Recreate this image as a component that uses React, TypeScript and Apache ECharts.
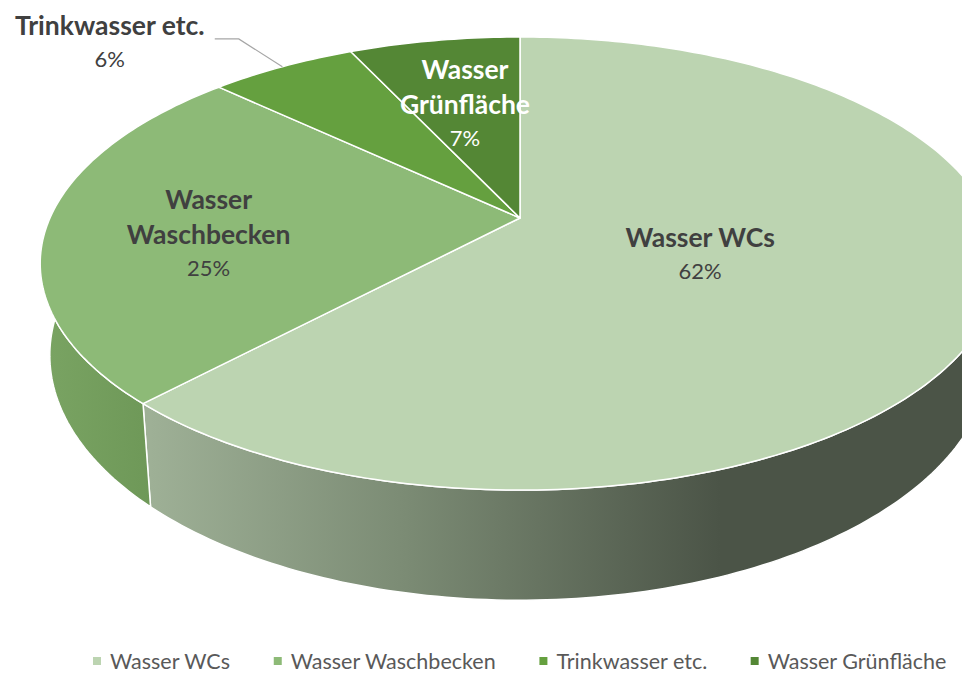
import React, { useEffect, useRef } from 'react';
import * as echarts from 'echarts';

// ---------- data ----------
const categories = ['Wasser WCs', 'Wasser Waschbecken', 'Trinkwasser etc.', 'Wasser Grünfläche'];
const values = [62, 25, 6, 7];
const labelLines = [['Wasser WCs'], ['Wasser', 'Waschbecken'], ['Trinkwasser etc.'], ['Wasser', 'Grünfläche']];

// ---------- styles ----------
const topColors = ['#bcd4b1', '#8dba77', '#65a03f', '#548735'];
const labelColors = ['#404040', '#404040', '#404040', '#ffffff'];
const labelRadius = [0.4, 0.66, -1, 0.6]; // -1 => outside label with leader line
const labelDy = [2, 10, 0, -2];
const FONT = 'Lato';

// projection of the tilted pie (perspective)
const CX = 520;
const CY = 218;
const A = 470;
const B = 217.4;
const K = 0.201;
const H = 88;

const total = values.reduce((a, b) => a + b, 0);

function project(theta: number, r: number, d: number): number[] {
  const u = r * Math.sin(theta);
  const v = -r * Math.cos(theta);
  const s = 1 / (1 - K * v);
  const x = CX + A * u * s * (1 - 0.02 * d);
  const y = CY + (B * v + H * d) * s;
  return [x, y];
}

function arcPoints(t1: number, t2: number, d: number): number[][] {
  const pts: number[][] = [];
  const n = Math.max(4, Math.ceil(((t2 - t1) / (Math.PI * 2)) * 360));
  for (let j = 0; j <= n; j++) {
    const t = t1 + ((t2 - t1) * j) / n;
    pts.push(project(t, 1, d));
  }
  return pts;
}

const sideFills: any[] = [
  new echarts.graphic.LinearGradient(150, 0, 720, 0, [
    { offset: 0, color: '#9eb096' },
    { offset: 0.45, color: '#7b8b74' },
    { offset: 1, color: '#4b5447' },
  ], true),
  new echarts.graphic.LinearGradient(40, 0, 160, 0, [
    { offset: 0, color: '#7aa463' },
    { offset: 1, color: '#6d9757' },
  ], true),
  '#4f8230',
  '#426f2a',
];

export default function App() {
  const ref = useRef<HTMLDivElement>(null);

  useEffect(() => {
    if (!ref.current) return;
    const chart = echarts.init(ref.current, undefined, { renderer: 'svg' });

    let acc = 0;
    const sliceData = values.map((v, i) => {
      const start = acc;
      acc += v;
      return { name: categories[i], value: [start, acc, i] };
    });

    const angle = (p: number) => (p / total) * Math.PI * 2;

    const option: any = {
      animation: false,
      backgroundColor: '#ffffff',
      legend: {
        left: 93,
        top: 650,
        width: 1400,
        padding: 0,
        icon: 'rect',
        itemWidth: 8,
        itemHeight: 8,
        itemGap: 43,
        selectedMode: false,
        data: categories,
        textStyle: { fontFamily: FONT, fontSize: 21.5, lineHeight: 22, color: '#595959', padding: [0, 0, 0, 4] },
      },
      series: [
        {
          type: 'pie',
          name: 'legend',
          radius: [0, 0],
          center: [-100, -100],
          silent: true,
          label: { show: false },
          labelLine: { show: false },
          data: categories.map((c, i) => ({ name: c, value: values[i], itemStyle: { color: topColors[i] } })),
        },
        {
          type: 'custom',
          name: 'sides',
          coordinateSystem: 'none',
          silent: true,
          z: 1,
          data: sliceData,
          renderItem: (params: any, api: any) => {
            const t1 = angle(api.value(0));
            const t2 = angle(api.value(1));
            const i = api.value(2);
            const top = arcPoints(t1, t2, 0);
            const bottom = arcPoints(t1, t2, 1).reverse();
            return {
              type: 'polygon',
              shape: { points: top.concat(bottom) },
              style: { fill: sideFills[i], stroke: '#ffffff', lineWidth: 1.5, lineJoin: 'round' },
            };
          },
        },
        {
          type: 'custom',
          name: 'tops',
          coordinateSystem: 'none',
          silent: true,
          z: 2,
          data: sliceData,
          renderItem: (params: any, api: any) => {
            const t1 = angle(api.value(0));
            const t2 = angle(api.value(1));
            const i = api.value(2);
            const pts = [[CX, CY]].concat(arcPoints(t1, t2, 0));
            return {
              type: 'polygon',
              shape: { points: pts },
              style: { fill: topColors[i], stroke: '#ffffff', lineWidth: 1.5, lineJoin: 'round' },
            };
          },
        },
        {
          type: 'custom',
          name: 'labels',
          coordinateSystem: 'none',
          silent: true,
          z: 3,
          data: sliceData,
          renderItem: (params: any, api: any) => {
            const s = api.value(0);
            const e = api.value(1);
            const i = api.value(2);
            const mid = angle((s + e) / 2);
            const pct = Math.round((values[i] / total) * 100) + '%';
            const text = labelLines[i].map((l) => '{n|' + l + '}').join('\n') + '\n{p|' + pct + '}';
            const rich = {
              n: { fontFamily: FONT, fontWeight: 'bold', fontSize: 26.5, lineHeight: 35, fill: labelColors[i], color: labelColors[i], align: 'center' },
              p: { fontFamily: FONT, fontSize: 22, lineHeight: 32, fill: labelColors[i], color: labelColors[i], align: 'center' },
            };
            if (labelRadius[i] > 0) {
              const [x, y] = project(mid, labelRadius[i], 0);
              return {
                type: 'text',
                x,
                y: y + labelDy[i],
                style: { text, rich, align: 'center', verticalAlign: 'middle', fill: labelColors[i] },
              };
            }
            const p0 = project(mid, 1, 0);
            const p1 = project(mid, 1.22, 0);
            const p2 = [p1[0] - 24, p1[1]];
            return {
              type: 'group',
              children: [
                {
                  type: 'polyline',
                  shape: { points: [p0, p1, p2] },
                  style: { stroke: '#a6a6a6', lineWidth: 1.2, fill: 'none' },
                },
                {
                  type: 'text',
                  x: p2[0] - 105,
                  y: p2[1] + 2,
                  style: { text, rich, align: 'center', verticalAlign: 'middle', fill: labelColors[i] },
                },
              ],
            };
          },
        },
      ],
    };

    chart.setOption(option);
    return () => chart.dispose();
  }, []);

  return (
    <div
      ref={ref}
      style={{ position: 'absolute', left: 0, top: 0, width: 962, height: 673 }}
    />
  );
}
